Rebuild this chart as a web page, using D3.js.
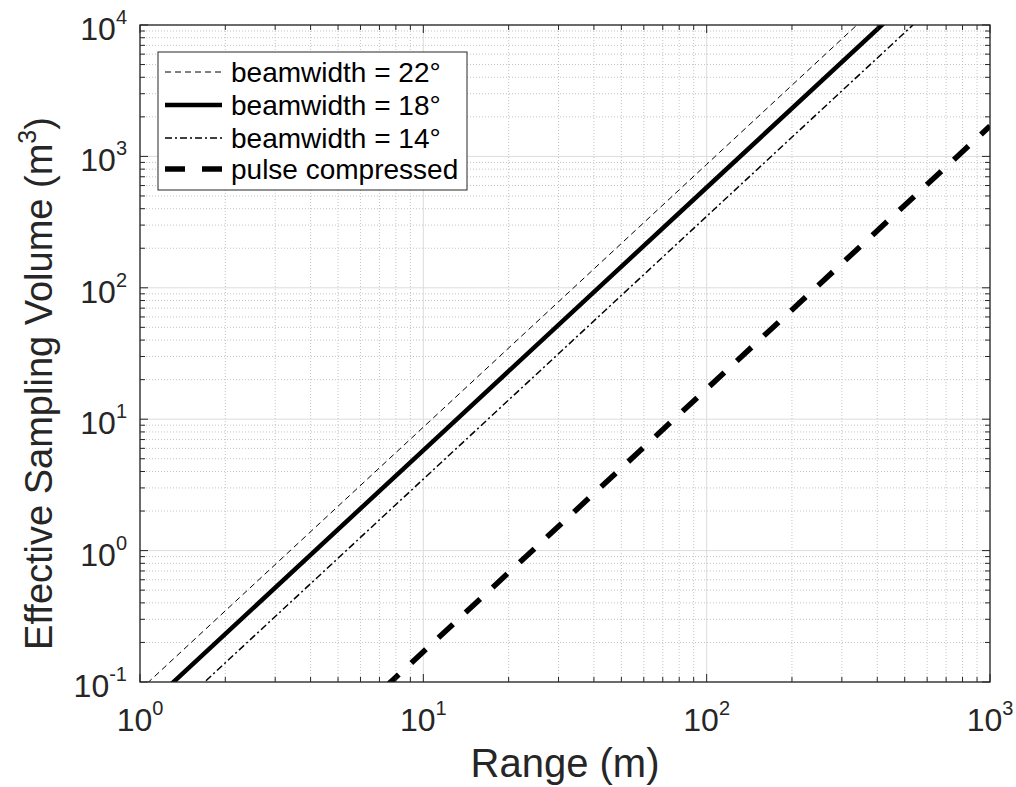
<!DOCTYPE html>
<html>
<head>
<meta charset="utf-8">
<script src="https://cdn.jsdelivr.net/npm/d3@7"></script>
<style>
  body { margin: 0; background: #fff; }
  text { font-family: "Liberation Sans", Arial, sans-serif; fill: #262626; }
</style>
</head>
<body>
<div class="container"></div>
<script>
const WIDTH = 1016;
const HEIGHT = 787;
const LEFT = 140, RIGHT = 990, TOP = 25, BOTTOM = 682;

// data (straight lines on log-log axes)
var ranges = [1, 10, 100, 1000];
var vol22 = [0.087, 8.7, 870, 87000];
var vol18 = [0.058, 5.8, 580, 58000];
var vol14 = [0.035, 3.5, 350, 35000];
var volPulse = [0.0017, 0.17, 17, 1700];

var xTicks = [1, 10, 100, 1000];
var xExp = ['0', '1', '2', '3'];
var yTicks = [0.1, 1, 10, 100, 1000, 10000];
var yExp = ['-1', '0', '1', '2', '3', '4'];

var seriesNames = ['beamwidth = 22\u00b0', 'beamwidth = 18\u00b0', 'beamwidth = 14\u00b0', 'pulse compressed'];
var seriesValues = [vol22, vol18, vol14, volPulse];
var seriesStyle = [
    {width: 1, dash: '6,4'},
    {width: 4.5, dash: null},
    {width: 1.5, dash: '7,3,2,3'},
    {width: 5.5, dash: '20,17'}
];

var _x = d3.scaleLog().domain([1, 1000]).range([LEFT, RIGHT]);
var _y = d3.scaleLog().domain([0.1, 10000]).range([BOTTOM, TOP]);

var _svg = d3.select('.container').append('svg')
    .attr('width', WIDTH).attr('height', HEIGHT);

var minorVals = function (domain) {
    var out = [];
    for (var p = Math.log10(domain[0]); p < Math.log10(domain[1]); p++) {
        for (var k = 2; k <= 9; k++) out.push(k * Math.pow(10, p));
    }
    return out;
};
var xMinor = minorVals(_x.domain());
var yMinor = minorVals(_y.domain());

// grid
var grid = _svg.append('g');
grid.selectAll('.xminor').data(xMinor).enter().append('line')
    .attr('x1', d => _x(d)).attr('x2', d => _x(d))
    .attr('y1', TOP).attr('y2', BOTTOM)
    .attr('stroke', '#c4c4c4').attr('stroke-width', 1).attr('stroke-dasharray', '1,2');
grid.selectAll('.yminor').data(yMinor).enter().append('line')
    .attr('y1', d => _y(d)).attr('y2', d => _y(d))
    .attr('x1', LEFT).attr('x2', RIGHT)
    .attr('stroke', '#c4c4c4').attr('stroke-width', 1).attr('stroke-dasharray', '1,2');
grid.selectAll('.xmajor').data(xTicks).enter().append('line')
    .attr('x1', d => _x(d)).attr('x2', d => _x(d))
    .attr('y1', TOP).attr('y2', BOTTOM)
    .attr('stroke', '#dcdcdc').attr('stroke-width', 1);
grid.selectAll('.ymajor').data(yTicks).enter().append('line')
    .attr('y1', d => _y(d)).attr('y2', d => _y(d))
    .attr('x1', LEFT).attr('x2', RIGHT)
    .attr('stroke', '#dcdcdc').attr('stroke-width', 1);

// data lines
_svg.append('clipPath').attr('id', 'plotclip').append('rect')
    .attr('x', LEFT).attr('y', TOP).attr('width', RIGHT - LEFT).attr('height', BOTTOM - TOP);

var line = d3.line().x(d => _x(d[0])).y(d => _y(d[1]));
var lineG = _svg.append('g').attr('clip-path', 'url(#plotclip)');
seriesValues.forEach(function (vals, i) {
    lineG.append('path')
        .datum(ranges.map((r, j) => [r, vals[j]]))
        .attr('d', line)
        .attr('fill', 'none')
        .attr('stroke', '#000')
        .attr('stroke-width', seriesStyle[i].width)
        .attr('stroke-dasharray', seriesStyle[i].dash);
});

// axes: box with inward ticks on all sides
var axisG = _svg.append('g');
var tickLine = function (x1, y1, x2, y2) {
    axisG.append('line').attr('x1', x1).attr('y1', y1).attr('x2', x2).attr('y2', y2)
        .attr('stroke', '#262626').attr('stroke-width', 1);
};
xTicks.forEach(function (d) {
    tickLine(_x(d), BOTTOM, _x(d), BOTTOM - 8);
    tickLine(_x(d), TOP, _x(d), TOP + 8);
});
xMinor.forEach(function (d) {
    tickLine(_x(d), BOTTOM, _x(d), BOTTOM - 5);
    tickLine(_x(d), TOP, _x(d), TOP + 5);
});
yTicks.forEach(function (d) {
    tickLine(LEFT, _y(d), LEFT + 8, _y(d));
    tickLine(RIGHT, _y(d), RIGHT - 8, _y(d));
});
yMinor.forEach(function (d) {
    tickLine(LEFT, _y(d), LEFT + 5, _y(d));
    tickLine(RIGHT, _y(d), RIGHT - 5, _y(d));
});
axisG.append('rect')
    .attr('x', LEFT).attr('y', TOP).attr('width', RIGHT - LEFT).attr('height', BOTTOM - TOP)
    .attr('fill', 'none').attr('stroke', '#262626').attr('stroke-width', 1.3);

// tick labels
xTicks.forEach(function (d, i) {
    var t = _svg.append('text').attr('x', _x(d)).attr('y', 731)
        .attr('text-anchor', 'middle').style('font-size', '32px');
    t.append('tspan').text('10');
    t.append('tspan').attr('dy', -16).style('font-size', '20px').text(xExp[i]);
});
yTicks.forEach(function (d, i) {
    var t = _svg.append('text').attr('x', 127).attr('y', _y(d) + 15)
        .attr('text-anchor', 'end').style('font-size', '32px');
    t.append('tspan').text('10');
    t.append('tspan').attr('dy', -16).style('font-size', '20px').text(yExp[i]);
});

// axis titles
_svg.append('text').attr('x', (LEFT + RIGHT) / 2).attr('y', 777)
    .attr('text-anchor', 'middle').style('font-size', '40px').text('Range (m)');
var yl = _svg.append('text')
    .attr('transform', 'translate(52,' + ((TOP + BOTTOM) / 2 + 30) + ') rotate(-90)')
    .attr('text-anchor', 'middle').style('font-size', '38px');
yl.append('tspan').text('Effective Sampling Volume (m');
yl.append('tspan').attr('dy', -16).style('font-size', '25px').text('3');
yl.append('tspan').attr('dy', 16).text(')');

// legend
var legend = _svg.append('g');
legend.append('rect').attr('x', 158).attr('y', 52).attr('width', 309).attr('height', 138)
    .attr('fill', '#fff').attr('stroke', '#262626').attr('stroke-width', 1);
var rowBase = [82, 115, 148, 179];
seriesNames.forEach(function (name, i) {
    legend.append('line')
        .attr('x1', 165).attr('x2', 222)
        .attr('y1', rowBase[i] - 10).attr('y2', rowBase[i] - 10)
        .attr('stroke', '#000')
        .attr('stroke-width', seriesStyle[i].width)
        .attr('stroke-dasharray', seriesStyle[i].dash);
    legend.append('text').attr('x', 231).attr('y', rowBase[i])
        .style('font-size', '28px').style('fill', '#000').text(name);
});
</script>
</body>
</html>
